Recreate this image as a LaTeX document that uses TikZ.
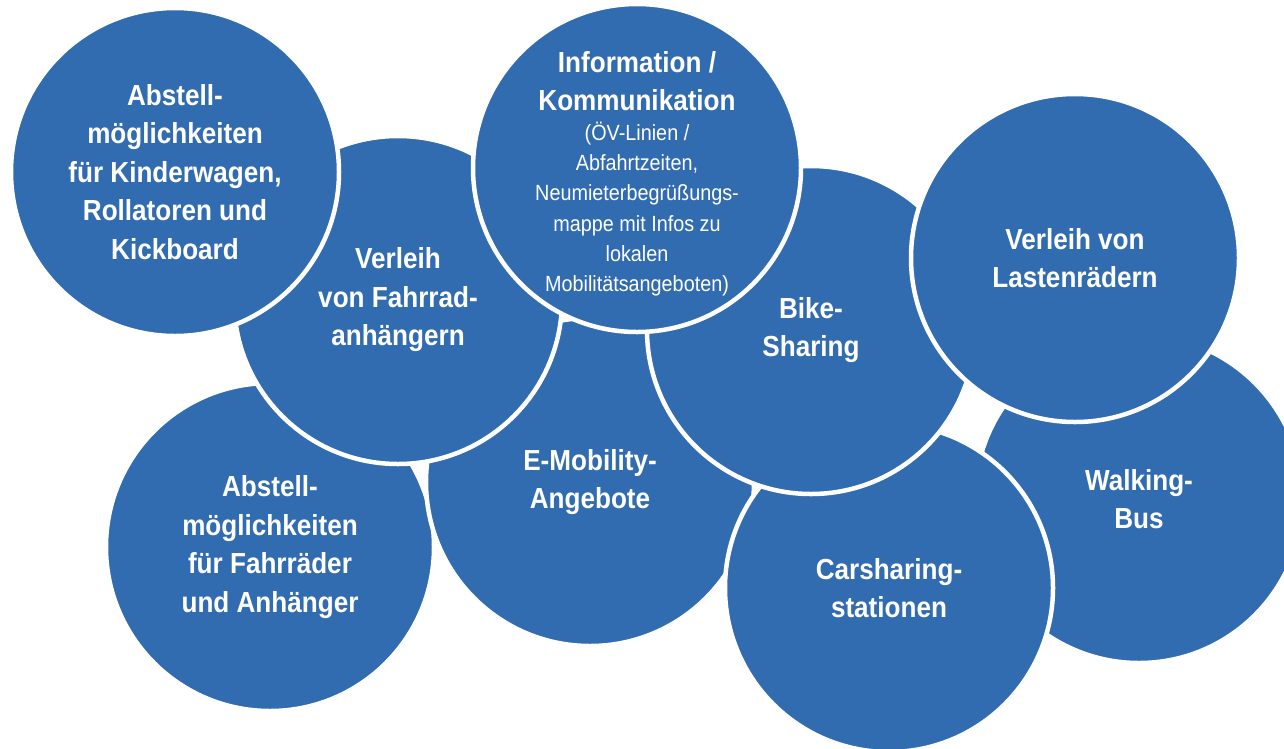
\documentclass[tikz,border=0pt]{standalone}
\usepackage{fontspec}
\setmainfont{Liberation Sans}[FakeStretch=0.9]
\definecolor{cblue}{RGB}{50,108,176}
\tikzset{
  bub/.style={circle, fill=cblue, draw=white, line width=4.5pt, minimum size=328pt,
    inner sep=0pt, text=white, align=center, font=\fontsize{29}{38.5}\selectfont\bfseries},
  inlabel/.style={text=white, align=center, inner sep=0pt, font=\fontsize{29}{38.5}\selectfont\bfseries}
}
\begin{document}
\begin{tikzpicture}[x=1pt,y=-1pt]
\useasboundingbox (0,0) rectangle (1284,748);
\clip (0,0) rectangle (1284,748);
\node[bub] (F) at (270,547) {Abstell-\\möglichkeiten\\für Fahrräder\\und Anhänger};
\node[bub] (E) at (590,482) {E-Mobility-\\Angebote};
\node[bub] (W) at (1139,499) {Walking-\\Bus};
\node[bub] (C) at (889,588) {Carsharing-\\stationen};
\node[bub] (B) at (811,330) {\raisebox{-4pt}{\begin{tabular}{@{}c@{}}Bike-\\Sharing\end{tabular}}};
\node[bub] (L) at (1075,258) {Verleih von\\Lastenrädern};
\node[bub] (V) at (398,300) {Verleih\\von Fahrrad-\\anhängern};
\node[bub, label={[inlabel, yshift=-5pt]center:{\begin{tabular}{@{}c@{}}Information /\\Kommunikation\\[-3pt]
  {\fontsize{22}{30.2}\selectfont\mdseries\begin{tabular}{@{}c@{}}(ÖV-Linien /\\Abfahrtzeiten,\\Neumieterbegrüßungs-\\mappe mit Infos zu\\lokalen\\Mobilitätsangeboten)\end{tabular}}\end{tabular}}}] (I) at (637,168) {};
\node[bub] (A) at (175,172) {Abstell-\\möglichkeiten\\für Kinderwagen,\\Rollatoren und\\Kickboard};
\end{tikzpicture}
\end{document}
